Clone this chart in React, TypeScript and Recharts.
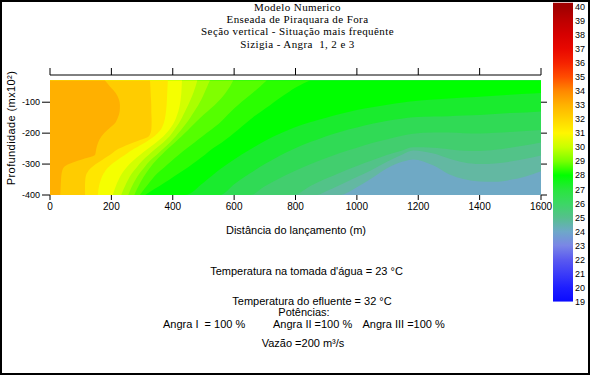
import React from 'react';
import { ComposedChart, Area, XAxis, YAxis, BarChart, Bar } from 'recharts';

// ---------------- Data ----------------
const distanceTicks = [0, 200, 400, 600, 800, 1000, 1200, 1400, 1600];
const depthTicks = [-100, -200, -300, -400];
const colorbarTicks = [19, 20, 21, 22, 23, 24, 25, 26, 27, 28, 29, 30, 31, 32, 33, 34, 35, 36, 37, 38, 39, 40];

const FIELD_TOP = -30;
const FIELD_BOTTOM = -400;
const AXIS_TOP = -12;
const COLORBAR_MIN = 19;
const COLORBAR_MAX = 40.3;

// Cool isotherms (depth as a function of distance)
const coolDistance = [0, 400, 440, 500, 554, 600, 652, 700, 750, 792, 850, 870, 900, 945, 1000, 1050, 1100, 1150, 1183, 1250, 1300, 1350, 1400, 1450, 1500, 1550, 1600];
const isoTeal = [-400, -400, -400, -400, -400, -400, -400, -400, -400, -400, -400, -400, -400, -400, -375, -345, -313, -292, -285, -305, -333, -349, -356, -357, -351, -340, -323];
const isoSea = [-400, -400, -400, -400, -400, -400, -400, -400, -400, -400, -400, -400, -388, -368, -342, -318, -292, -268, -256, -266, -282, -295, -300, -298, -292, -283, -272];
const isoMint = [-400, -400, -400, -400, -400, -400, -400, -400, -400, -400, -370, -360, -347, -328, -306, -288, -270, -255, -246, -247, -252, -257, -258, -254, -247, -239, -230];
const isoJade = [-400, -400, -400, -400, -400, -400, -400, -372, -345, -325, -300, -292, -280, -264, -247, -232, -220, -208, -202, -198, -198, -200, -201, -199, -196, -193, -190];
const isoLeaf = [-400, -400, -400, -400, -400, -365, -330, -300, -272, -252, -228, -221, -210, -196, -182, -170, -160, -153, -149, -146, -145, -143, -141, -138, -135, -133, -130];
const isoGreen = [-400, -400, -400, -360, -317, -285, -253, -225, -201, -183, -164, -158, -150, -138, -125, -116, -108, -101, -97, -91, -88, -85, -82, -79, -76, -73, -70];

// Warm isotherms (distance as a function of depth)
const warmDepth = [-30, -50, -70, -90, -110, -130, -150, -170, -190, -210, -230, -250, -270, -290, -310, -330, -350, -370, -390, -400];
const isoW9 = [847, 805, 773, 744, 717, 688, 660, 636, 612, 587, 560, 530, 505, 478, 450, 420, 390, 358, 325, 310];
const isoW8 = [706, 684, 660, 636, 612, 590, 570, 550, 524, 497, 471, 445, 420, 396, 373, 350, 332, 316, 300, 293];
const isoW7 = [597, 586, 572, 556, 536, 513, 490, 470, 450, 429, 407, 385, 364, 344, 327, 313, 300, 289, 279, 275];
const isoW6 = [521, 512, 503, 494, 483, 470, 457, 443, 427, 410, 391, 370, 348, 325, 308, 292, 279, 268, 259, 255];
const isoW5 = [480, 474, 467, 459, 450, 440, 430, 419, 405, 390, 369, 345, 322, 300, 283, 267, 255, 245, 236, 232];
const isoW4 = [430, 429, 428, 426, 423, 418, 411, 402, 388, 370, 346, 320, 294, 270, 250, 235, 224, 215, 208, 205];
const isoW3 = [384, 383, 382, 381, 380, 378, 375, 370, 360, 340, 310, 275, 245, 215, 190, 175, 166, 160, 157, 156];
const isoW2 = [326, 327, 328, 329, 330, 330, 331, 331, 330, 322, 272, 225, 196, 165, 136, 120, 115, 114, 114, 114];
const isoW1 = [179, 196, 214, 224, 228, 227, 221, 210, 187, 168, 157, 151, 147, 88, 45, 38, 36, 35, 34, 33];

// Colour scale of the colour bar
const colorbarLevels = [40, 39, 38, 37, 36, 35, 34, 33, 32, 31, 30, 29, 28, 27, 26, 25, 24, 23, 22, 21, 20, 19];
const colorbarColors = ['#A00000', '#BE0000', '#D60000', '#E80800', '#F52200', '#FF4C00', '#FF8800', '#FFB200', '#FFD400', '#FFF600', '#C8FF00', '#78FF00', '#00FF00', '#28E63C', '#3CD764', '#55C08C', '#6EA8C8', '#7A86E6', '#5A5AF0', '#3C3CF8', '#1E1EFF', '#0A0AFF'];

// Title and notes
const titleLines = ['Modelo Numerico', 'Enseada de Piraquara de Fora', 'Seção vertical - Situação mais frequênte', 'Sizigia - Angra  1, 2 e 3'];
const xLabel = 'Distância do lançamento (m)';
const yLabel = 'Profundidade (mx10²)';

// ------------- Derived tables -------------
const coolRows = coolDistance.map((x, i) => ({
  x,
  base: FIELD_BOTTOM,
  teal: isoTeal[i],
  sea: isoSea[i],
  mint: isoMint[i],
  jade: isoJade[i],
  leaf: isoLeaf[i],
  green: isoGreen[i],
}));

const coolSeries = [
  { key: 'base', color: '#6FA9C5' },
  { key: 'teal', color: '#63B8A2' },
  { key: 'sea', color: '#52C388' },
  { key: 'mint', color: '#42CE6E' },
  { key: 'jade', color: '#30DA55' },
  { key: 'leaf', color: '#1AEB2E' },
  { key: 'green', color: '#00FF00' },
];

const warmRows = warmDepth.map((d, i) => ({
  d,
  w9: isoW9[i],
  w8: isoW8[i],
  w7: isoW7[i],
  w6: isoW6[i],
  w5: isoW5[i],
  w4: isoW4[i],
  w3: isoW3[i],
  w2: isoW2[i],
  w1: isoW1[i],
}));

const warmSeries = [
  { key: 'w9', color: '#2AFF00' },
  { key: 'w8', color: '#55FF00' },
  { key: 'w7', color: '#80FF00' },
  { key: 'w6', color: '#AAFF00' },
  { key: 'w5', color: '#D2FF00' },
  { key: 'w4', color: '#F5FF00' },
  { key: 'w3', color: '#FFE600' },
  { key: 'w2', color: '#FFCC00' },
  { key: 'w1', color: '#FFB000' },
];

const colorbarRows = [{ k: 'scale', span: [COLORBAR_MIN, COLORBAR_MAX] }];

const SANS = '"Liberation Sans", Arial, Helvetica, sans-serif';
const SERIF = '"Liberation Serif", "Times New Roman", serif';

export default function App() {
  return (
    <div
      style={{
        position: 'absolute',
        left: 0,
        top: 0,
        width: 590,
        height: 376,
        background: '#fff',
        overflow: 'hidden',
        fontFamily: SANS,
      }}
    >
      {/* main chart: axes + cool bands */}
      <div style={{ position: 'absolute', left: 0, top: 0 }}>
        <ComposedChart
          width={590}
          height={240}
          data={coolRows}
          margin={{ top: 65, right: 39, bottom: 17, left: 10 }}
          style={{ fontFamily: SANS }}
        >
          <XAxis
            xAxisId="b"
            dataKey="x"
            type="number"
            domain={[0, 1600]}
            ticks={distanceTicks}
            allowDataOverflow
            interval={0}
            axisLine={false}
            tickLine={{ stroke: '#000' }}
            tickSize={5}
            tickMargin={3}
            height={28}
            tick={{ fontSize: 10, fill: '#000' }}
          />
          <XAxis
            xAxisId="t"
            orientation="top"
            dataKey="x"
            type="number"
            domain={[0, 1600]}
            ticks={distanceTicks}
            allowDataOverflow
            interval={0}
            axisLine={{ stroke: '#000' }}
            tickLine={{ stroke: '#000' }}
            tickSize={7}
            tickFormatter={() => ''}
            height={10}
          />
          <YAxis
            yAxisId="l"
            type="number"
            domain={[FIELD_BOTTOM, AXIS_TOP]}
            ticks={depthTicks}
            allowDataOverflow
            interval={0}
            axisLine={false}
            tickLine={{ stroke: '#000' }}
            tickSize={8}
            tickMargin={2}
            width={40}
            tick={{ fontSize: 9, fill: '#000' }}
          />
          <YAxis
            yAxisId="r"
            orientation="right"
            type="number"
            domain={[FIELD_BOTTOM, AXIS_TOP]}
            ticks={depthTicks}
            allowDataOverflow
            interval={0}
            axisLine={false}
            tickLine={{ stroke: '#000' }}
            tickSize={6}
            tickFormatter={() => ''}
            width={10}
          />
          {coolSeries.map((s) => (
            <Area
              key={s.key}
              xAxisId="b"
              yAxisId="l"
              dataKey={s.key}
              type="monotone"
              baseValue={FIELD_TOP}
              fill={s.color}
              fillOpacity={1}
              stroke="none"
              dot={false}
              activeDot={false}
              isAnimationActive={false}
            />
          ))}
        </ComposedChart>
      </div>

      {/* overlay chart: warm bands (distance as a function of depth) */}
      <div style={{ position: 'absolute', left: 0, top: 0 }}>
        <ComposedChart
          layout="vertical"
          width={590}
          height={240}
          data={warmRows}
          margin={{ top: 75, right: 49, bottom: 45, left: 50 }}
        >
          <XAxis type="number" domain={[0, 1600]} allowDataOverflow hide />
          <YAxis type="number" dataKey="d" domain={[FIELD_BOTTOM, AXIS_TOP]} allowDataOverflow hide reversed />
          {warmSeries.map((s) => (
            <Area
              key={s.key}
              dataKey={s.key}
              type="monotone"
              baseValue={0}
              fill={s.color}
              fillOpacity={1}
              stroke="none"
              dot={false}
              activeDot={false}
              isAnimationActive={false}
            />
          ))}
        </ComposedChart>
      </div>

      {/* colour bar */}
      <div style={{ position: 'absolute', left: 553, top: 0 }}>
        <BarChart
          width={55}
          height={310}
          data={colorbarRows}
          margin={{ top: 2.5, right: 0, bottom: 8.3, left: 0 }}
          barCategoryGap={0}
          style={{ fontFamily: SANS }}
        >
          <defs>
            <linearGradient id="cbarGrad" x1="0" y1="0" x2="0" y2="1">
              {colorbarLevels.map((v, i) => (
                <stop
                  key={v}
                  offset={`${((COLORBAR_MAX - v) / (COLORBAR_MAX - COLORBAR_MIN)) * 100}%`}
                  stopColor={colorbarColors[i]}
                />
              ))}
            </linearGradient>
          </defs>
          <XAxis dataKey="k" hide />
          <YAxis
            orientation="right"
            type="number"
            domain={[COLORBAR_MIN, COLORBAR_MAX]}
            ticks={colorbarTicks}
            allowDataOverflow
            interval={0}
            axisLine={false}
            tickLine={false}
            tickSize={0}
            tickMargin={2}
            width={35}
            tick={{ fontSize: 9, fill: '#000' }}
          />
          <Bar dataKey="span" fill="url(#cbarGrad)" isAnimationActive={false} />
        </BarChart>
      </div>

      {/* annotations */}
      <svg
        width={590}
        height={376}
        style={{ position: 'absolute', left: 0, top: 0, pointerEvents: 'none' }}
      >
        <rect x={1} y={1} width={588} height={373} fill="none" stroke="#000" strokeWidth={2} />
        {titleLines.map((t, i) => (
          <text
            key={i}
            x={297.5}
            y={10.8 + i * 12.3}
            textAnchor="middle"
            fontFamily={SERIF}
            fontSize={11}
            letterSpacing={0.4}
            fill="#000"
            style={{ whiteSpace: 'pre' }}
          >
            {t}
          </text>
        ))}
        <text x={296} y={234} textAnchor="middle" fontFamily={SANS} fontSize={11} fill="#000">
          {xLabel}
        </text>
        <text
          transform="translate(14.5,128) rotate(-90)"
          textAnchor="middle"
          fontFamily={SANS}
          fontSize={11}
          letterSpacing={0.4}
          fill="#000"
        >
          {yLabel}
        </text>
        <g fontFamily={SANS} fontSize={11} fill="#000">
          <text x={306.5} y={274.5} textAnchor="middle">Temperatura na tomada d'água = 23 °C</text>
          <text x={312} y={305} textAnchor="middle">Temperatura do efluente = 32 °C</text>
          <text x={304} y={315.5} textAnchor="middle">Potências:</text>
          <text x={163} y={327.5} style={{ whiteSpace: 'pre' }}>Angra I  = 100 %</text>
          <text x={273} y={327.5} style={{ whiteSpace: 'pre' }}>Angra II =100 %</text>
          <text x={362.5} y={327.5} style={{ whiteSpace: 'pre' }}>Angra III =100 %</text>
          <text x={303} y={347} textAnchor="middle">Vazão =200 m³/s</text>
        </g>
      </svg>
    </div>
  );
}
